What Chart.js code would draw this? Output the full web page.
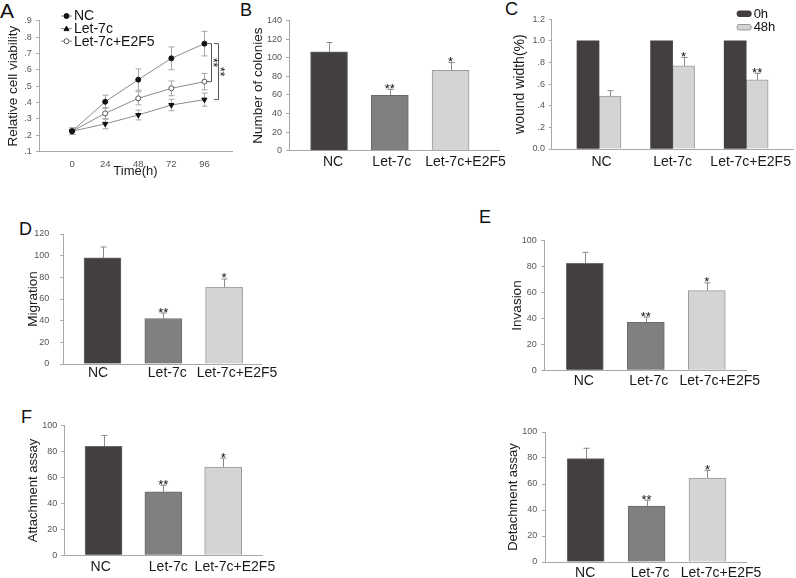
<!DOCTYPE html>
<html>
<head>
<meta charset="utf-8">
<script src="https://cdn.jsdelivr.net/npm/chart.js@4.4.0/dist/chart.umd.min.js"></script>
<style>
  html, body { margin: 0; padding: 0; background: #fff; }
  body { width: 796px; height: 578px; position: relative; overflow: hidden; font-family: "Liberation Sans", Arial, sans-serif; }
  canvas { position: absolute; }
  .lettre { position: absolute; font-size: 18px; line-height: 18px; color: #111; }
</style>
</head>
<body>
<div class="lettre" style="left:0px;top:-0.5px;font-size:21px;line-height:21px">A</div>
<div class="lettre" style="left:240px;top:1.2px">B</div>
<div class="lettre" style="left:505px;top:-0.3px">C</div>
<div class="lettre" style="left:19px;top:219.6px">D</div>
<div class="lettre" style="left:479px;top:207.6px">E</div>
<div class="lettre" style="left:21px;top:407.6px">F</div>

<canvas id="chartA"></canvas>
<canvas id="chartB"></canvas>
<canvas id="chartC"></canvas>
<canvas id="chartD"></canvas>
<canvas id="chartE"></canvas>
<canvas id="chartF"></canvas>
<canvas id="chartG"></canvas>

<script>
// --- Données du panneau A (viabilité cellulaire)
const timePoints = [0, 24, 48, 72, 96];
const viabilityTicks = [0.1, 0.2, 0.3, 0.4, 0.5, 0.6, 0.7, 0.8, 0.9];
const viabilityNC = [0.225, 0.405, 0.54, 0.67, 0.76];
const viabilityNCErr = [0.02, 0.04, 0.065, 0.07, 0.075];
const viabilityLet7c = [0.225, 0.27, 0.324, 0.385, 0.418];
const viabilityLet7cErr = [0.02, 0.03, 0.03, 0.035, 0.04];
const viabilityE2F5 = [0.225, 0.334, 0.426, 0.487, 0.528];
const viabilityE2F5Err = [0.02, 0.035, 0.04, 0.045, 0.05];
const significanceA = ['**', '**']; // NC vs Let-7c+E2F5, NC vs Let-7c

// --- Groupes des histogrammes
const groups = ['NC', 'Let-7c', 'Let-7c+E2F5'];
const groupColors = ['#433f3e', '#808080', '#d4d4d4'];
const groupBorders = ['#6e6a69', '#6a6a6a', '#9a9a9a'];
const groupStars = ['', '**', '*'];

// --- B : colonies
const coloniesTicks = [0, 20, 40, 60, 80, 100, 120, 140];
const colonies = [106.5, 59.5, 86.5];
const coloniesErr = [10, 6.5, 8.5];

// --- C : largeur de la plaie
const woundSeries = ['0h', '48h'];
const woundTicks = [0, 0.2, 0.4, 0.6, 0.8, 1.0, 1.2];
const wound0h = [1, 1, 1];
const wound48h = [0.49, 0.77, 0.64];
const wound48hErr = [0.05, 0.077, 0.06];
const woundStars = ['', '*', '**'];

// --- D, E, F et détachement
const migrationTicks = [0, 20, 40, 60, 80, 100, 120];
const migration = [98, 42, 71];
const migrationErr = [10, 5, 7.5];
const percentTicks = [0, 20, 40, 60, 80, 100];
const invasion = [82.5, 37, 61.5];
const invasionErr = [8.5, 4, 6];
const attachment = [84, 49, 68];
const attachmentErr = [8.5, 5, 7];
const detachment = [79.5, 43, 64.5];
const detachmentErr = [8, 4.5, 6];

Chart.defaults.font.family = '"Liberation Sans", Arial, sans-serif';
Chart.defaults.color = '#555';

const FONT = '"Liberation Sans", Arial, sans-serif';

// Place le canvas à la position voulue dans la page
function placeCanvas(id, box) {
    const c = document.getElementById(id);
    c.style.left = box.x + 'px';
    c.style.top = box.y + 'px';
    c.style.width = box.w + 'px';
    c.style.height = box.h + 'px';
    c.width = box.w;
    c.height = box.h;
    return c;
}

// Barres d'erreur et étoiles de significativité
const errorBars = {
    id: 'errorBars',
    beforeDatasetsDraw(chart) {
        const ctx = chart.ctx;
        const yScale = chart.scales.y;
        chart.data.datasets.forEach((ds, i) => {
            if (!ds.errors) return;
            const meta = chart.getDatasetMeta(i);
            meta.data.forEach((el, j) => {
                const err = ds.errors[j];
                if (!err) return;
                const v = ds.data[j].y;
                const top = yScale.getPixelForValue(v + err);
                const bottom = ds.twoSided ? yScale.getPixelForValue(v - err) : el.y;
                const x = Math.round(el.x) + 0.5;
                ctx.save();
                ctx.strokeStyle = ds.errorColor || '#8a8a8a';
                ctx.lineWidth = 1;
                ctx.beginPath();
                ctx.moveTo(x, top);
                ctx.lineTo(x, bottom);
                ctx.moveTo(x - 3, top);
                ctx.lineTo(x + 3, top);
                if (ds.twoSided) {
                    ctx.moveTo(x - 3, bottom);
                    ctx.lineTo(x + 3, bottom);
                }
                ctx.stroke();
                ctx.restore();
            });
        });
    },
    afterDatasetsDraw(chart) {
        const ctx = chart.ctx;
        const yScale = chart.scales.y;
        chart.data.datasets.forEach((ds, i) => {
            if (!ds.stars) return;
            const meta = chart.getDatasetMeta(i);
            meta.data.forEach((el, j) => {
                if (!ds.stars[j]) return;
                const top = yScale.getPixelForValue(ds.data[j].y + (ds.errors ? ds.errors[j] : 0));
                ctx.save();
                ctx.fillStyle = '#111';
                ctx.font = '13px ' + FONT;
                ctx.textAlign = 'center';
                ctx.textBaseline = 'alphabetic';
                ctx.fillText(ds.stars[j], el.x, top + 3.5);
                ctx.restore();
            });
        });
    }
};

// Marqueurs du panneau A
function drawMarker(ctx, type, x, y, fill, stroke, r) {
    ctx.beginPath();
    if (type === 'triangleUp') {
        ctx.moveTo(x, y - r);
        ctx.lineTo(x + r, y + r * 0.8);
        ctx.lineTo(x - r, y + r * 0.8);
        ctx.closePath();
    } else {
        ctx.arc(x, y, r, 0, Math.PI * 2);
    }
    ctx.fillStyle = fill;
    ctx.fill();
    ctx.strokeStyle = stroke;
    ctx.lineWidth = 1;
    ctx.stroke();
}

const legendA = {
    id: 'legendA',
    afterDraw(chart) {
        const ctx = chart.ctx;
        const {left, top} = chart.chartArea;
        chart.data.datasets.forEach((ds, i) => {
            const y = top - 4.7 + i * 12.6;
            const x0 = left + 22;
            ctx.save();
            ctx.strokeStyle = ds.borderColor;
            ctx.lineWidth = 1;
            ctx.beginPath();
            ctx.moveTo(x0, y);
            ctx.lineTo(x0 + 11, y);
            ctx.stroke();
            drawMarker(ctx, ds.legendMarker, x0 + 5.5, y, ds.pointBackgroundColor, ds.pointBorderColor, 2.5);
            ctx.fillStyle = '#111';
            ctx.font = '14px ' + FONT;
            ctx.textBaseline = 'middle';
            ctx.fillText(ds.label, x0 + 13, y + 0.5);
            ctx.restore();
        });
    }
};

// Crochets de significativité à 96 h
const bracketsA = {
    id: 'bracketsA',
    afterDatasetsDraw(chart) {
        const ctx = chart.ctx;
        const last = i => { const d = chart.getDatasetMeta(i).data; return d[d.length - 1]; };
        const nc = last(0), let7c = last(1), e2f5 = last(2);
        const pairs = [
            {a: nc, b: e2f5, dx: 6.5, tick: 5, sx: 10.5, text: significanceA[0]},
            {a: nc, b: let7c, dx: 13.5, tick: 4.5, sx: 17.5, text: significanceA[1]}
        ];
        pairs.forEach(p => {
            const x = Math.round(p.a.x + p.dx) + 0.5;
            ctx.save();
            ctx.strokeStyle = '#555';
            ctx.lineWidth = 1;
            ctx.beginPath();
            ctx.moveTo(x - p.tick, p.a.y);
            ctx.lineTo(x, p.a.y);
            ctx.lineTo(x, p.b.y);
            ctx.lineTo(x - p.tick, p.b.y);
            ctx.stroke();
            ctx.translate(p.a.x + p.sx, (p.a.y + p.b.y) / 2);
            ctx.rotate(Math.PI / 2);
            ctx.fillStyle = '#111';
            ctx.font = '12px ' + FONT;
            ctx.textAlign = 'center';
            ctx.textBaseline = 'middle';
            ctx.fillText(p.text, 0, 3);
            ctx.restore();
        });
    }
};

const legendC = {
    id: 'legendC',
    afterDraw(chart) {
        const ctx = chart.ctx;
        const {right, top} = chart.chartArea;
        chart.data.datasets.forEach((ds, i) => {
            const y = top - 5.8 + i * 13.5;
            const x0 = right - 57;
            ctx.save();
            ctx.fillStyle = ds.backgroundColor;
            ctx.strokeStyle = ds.borderWidth ? ds.borderColor : ds.backgroundColor;
            ctx.lineWidth = 1;
            ctx.beginPath();
            ctx.roundRect(x0 + 0.5, y - 2.5, 14, 5.5, 2);
            ctx.fill();
            ctx.stroke();
            ctx.fillStyle = '#111';
            ctx.font = '13px ' + FONT;
            ctx.textBaseline = 'middle';
            ctx.fillText(ds.label, x0 + 17, y + 0.5);
            ctx.restore();
        });
    }
};

// Options communes des axes, la zone de tracé est fixée au pixel près
function axisOptions(box, plot, p) {
    return {
        layout: {padding: {left: 0, top: plot.top - box.y, right: box.x + box.w - plot.right, bottom: 0}},
        x: {
            type: 'linear',
            offset: false,
            min: p.xMin,
            max: p.xMax,
            afterBuildTicks: s => { s.ticks = p.xTicks.map(v => ({value: v})); },
            afterFit: s => { s.height = box.y + box.h - plot.bottom; },
            grid: {display: false, drawTicks: false},
            border: {display: true, color: '#a8a8a8', width: 1},
            ticks: {
                autoSkip: false, maxRotation: 0, minRotation: 0,
                padding: p.xPad,
                font: {size: p.xFont},
                color: p.xColor,
                callback: p.xLabel
            },
            title: p.xTitle ? {
                display: true, text: p.xTitle, color: '#1a1a1a',
                font: {size: 13}, padding: {top: 0, bottom: p.xTitlePad}
            } : {display: false}
        },
        y: {
            min: p.yTicks[0],
            max: p.yTicks[p.yTicks.length - 1],
            afterBuildTicks: s => { s.ticks = p.yTicks.map(v => ({value: v})); },
            afterFit: s => { s.width = plot.left - box.x; },
            grid: {display: true, drawOnChartArea: false, drawTicks: true, tickLength: 3, color: '#a8a8a8'},
            border: {display: true, color: '#a8a8a8', width: 1},
            ticks: {padding: p.yPad, font: {size: 9}, color: '#555', callback: p.yLabel},
            title: {
                display: true, text: p.yTitle, color: '#1a1a1a',
                font: {size: p.titleSize},
                padding: {top: p.titleX - box.x - p.titleSize * 0.6, bottom: 0}
            }
        }
    };
}

function createBarPanel(id, box, plot, p, series, extraPlugins) {
    const canvas = placeCanvas(id, box);
    // les étiquettes de catégories sont légèrement décalées par rapport aux barres
    const pxPerUnit = (plot.right - plot.left) / (p.xMax - p.xMin);
    const axes = axisOptions(box, plot, Object.assign({
        xTicks: groups.map((g, i) => i + p.labelShift[i] / pxPerUnit),
        xFont: 14,
        xColor: '#1a1a1a',
        xLabel: (v, i) => groups[i],
        yLabel: v => String(v)
    }, p));
    const datasets = series.map(s => ({
        label: s.label,
        data: s.values.map((v, i) => ({x: i, y: v})),
        errors: s.errors,
        stars: s.stars,
        backgroundColor: s.colors,
        borderColor: s.borders,
        borderWidth: s.borderWidth,
        barThickness: p.barWidth
    }));
    return new Chart(canvas, {
        type: 'bar',
        data: {datasets: datasets},
        options: {
            responsive: false,
            animation: false,
            devicePixelRatio: 1,
            layout: axes.layout,
            plugins: {legend: {display: false}, tooltip: {enabled: false}},
            scales: {x: axes.x, y: axes.y}
        },
        plugins: [errorBars].concat(extraPlugins || [])
    });
}

// --- Panneau A : courbes
(function () {
    const box = {x: 0, y: 0, w: 240, h: 190};
    const plot = {left: 39, top: 20.7, right: 232, bottom: 151.7};
    const canvas = placeCanvas('chartA', box);
    const axes = axisOptions(box, plot, {
        xMin: -24, xMax: 116, xTicks: timePoints,
        xPad: 6.9, xFont: 9.5, xColor: '#555', xLabel: v => String(v),
        xTitle: 'Time(h)', xTitlePad: 11.2,
        yTicks: viabilityTicks, yPad: 4.3,
        yLabel: v => v.toFixed(1).replace(/^0/, ''),
        yTitle: 'Relative cell viability', titleSize: 13.5, titleX: 13
    });
    const toPoints = vals => vals.map((v, i) => ({x: timePoints[i], y: v}));
    const line = {borderColor: '#8c8c8c', borderWidth: 1, tension: 0, twoSided: true, errorColor: '#a8a8a8', pointBorderWidth: 1};
    new Chart(canvas, {
        type: 'line',
        data: {
            datasets: [
                Object.assign({}, line, {label: 'NC', data: toPoints(viabilityNC), errors: viabilityNCErr,
                    pointStyle: 'circle', pointRadius: 2.5, pointBackgroundColor: '#111', pointBorderColor: '#111', legendMarker: 'circle'}),
                Object.assign({}, line, {label: 'Let-7c', data: toPoints(viabilityLet7c), errors: viabilityLet7cErr,
                    pointStyle: 'triangle', pointRotation: 180, pointRadius: 3, pointBackgroundColor: '#111', pointBorderColor: '#111', legendMarker: 'triangleUp'}),
                Object.assign({}, line, {label: 'Let-7c+E2F5', data: toPoints(viabilityE2F5), errors: viabilityE2F5Err,
                    pointStyle: 'circle', pointRadius: 2.5, pointBackgroundColor: '#fff', pointBorderColor: '#555', legendMarker: 'circle'})
            ]
        },
        options: {
            responsive: false,
            animation: false,
            devicePixelRatio: 1,
            layout: axes.layout,
            plugins: {legend: {display: false}, tooltip: {enabled: false}},
            scales: {x: axes.x, y: axes.y}
        },
        plugins: [errorBars, legendA, bracketsA]
    });
})();

// --- Panneau B : colonies
createBarPanel('chartB', {x: 245, y: 0, w: 265, h: 185}, {left: 289, top: 20.7, right: 500, bottom: 150.7}, {
    xMin: -0.659, xMax: 2.8, xPad: 2.6, barWidth: 37, labelShift: [4, 2, 15],
    yTicks: coloniesTicks, yPad: 4,
    yTitle: 'Number of colonies', titleSize: 13.5, titleX: 258
}, [{label: 'Colonies', values: colonies, errors: coloniesErr, stars: groupStars,
     colors: groupColors, borders: groupBorders, borderWidth: 1}]);

// --- Panneau C : cicatrisation 0h / 48h
createBarPanel('chartC', {x: 508, y: 0, w: 288, h: 185}, {left: 551.7, top: 19.3, right: 795, bottom: 149}, {
    xMin: -0.643, xMax: 2.645, xPad: 4.9, barWidth: 22, labelShift: [2.5, 0, 4.5],
    yTicks: woundTicks, yPad: 3.7,
    yLabel: v => (v === 0 ? '0.0' : v >= 1 ? v.toFixed(1) : v.toFixed(1).replace(/^0/, '')),
    yTitle: 'wound width(%)', titleSize: 14, titleX: 520
}, [
    {label: woundSeries[0], values: wound0h, colors: '#433f3e', borders: '#433f3e', borderWidth: 0},
    {label: woundSeries[1], values: wound48h, errors: wound48hErr, stars: woundStars,
     colors: '#d4d4d4', borders: '#9a9a9a', borderWidth: 1}
], [legendC]);

// --- Panneau D : migration
createBarPanel('chartD', {x: 18, y: 200, w: 262, h: 190}, {left: 63.3, top: 234, right: 263, bottom: 364}, {
    xMin: -0.645, xMax: 2.618, xPad: 0.6, barWidth: 37, labelShift: [-4.5, 4, 13],
    yTicks: migrationTicks, yPad: 11,
    yTitle: 'Migration', titleSize: 13.5, titleX: 33
}, [{label: 'Migration', values: migration, errors: migrationErr, stars: groupStars,
     colors: groupColors, borders: groupBorders, borderWidth: 1}]);

// --- Panneau E : invasion
createBarPanel('chartE', {x: 500, y: 200, w: 296, h: 190}, {left: 544.3, top: 240.7, right: 746.7, bottom: 370.3}, {
    xMin: -0.664, xMax: 2.654, xPad: 2, barWidth: 37, labelShift: [-1, 3, 13],
    yTicks: percentTicks, yPad: 4.6,
    yTitle: 'Invasion', titleSize: 13.5, titleX: 517
}, [{label: 'Invasion', values: invasion, errors: invasionErr, stars: groupStars,
     colors: groupColors, borders: groupBorders, borderWidth: 1}]);

// --- Panneau F : attachement
createBarPanel('chartF', {x: 18, y: 395, w: 262, h: 183}, {left: 64.3, top: 425.7, right: 266.7, bottom: 555.3}, {
    xMin: -0.657, xMax: 2.652, xPad: 3, barWidth: 37, labelShift: [-3, 5, 12],
    yTicks: percentTicks, yPad: 4,
    yTitle: 'Attachment assay', titleSize: 13, titleX: 33.3
}, [{label: 'Attachment', values: attachment, errors: attachmentErr, stars: groupStars,
     colors: groupColors, borders: groupBorders, borderWidth: 1}]);

// --- Détachement
createBarPanel('chartG', {x: 500, y: 395, w: 296, h: 183}, {left: 545, top: 432, right: 746.7, bottom: 562}, {
    xMin: -0.668, xMax: 2.644, xPad: 2.3, barWidth: 37, labelShift: [-0.5, 3.5, 13.5],
    yTicks: percentTicks, yPad: 4.7,
    yTitle: 'Detachment assay', titleSize: 13, titleX: 513
}, [{label: 'Detachment', values: detachment, errors: detachmentErr, stars: groupStars,
     colors: groupColors, borders: groupBorders, borderWidth: 1}]);
</script>
</body>
</html>
